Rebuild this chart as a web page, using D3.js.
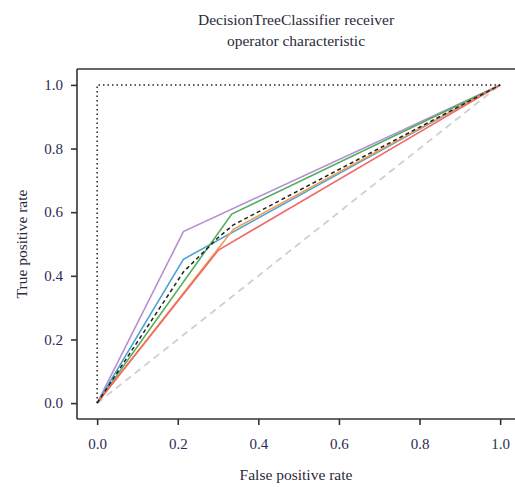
<!DOCTYPE html>
<html><head><meta charset="utf-8">
<script src="https://cdn.jsdelivr.net/npm/d3@7"></script>
<style>body{margin:0;background:#fff}svg{display:block}</style>
</head><body><div id="chart"></div>
<script>
const titleLines = ["DecisionTreeClassifier receiver", "operator characteristic"];
const xLabel = "False positive rate";
const yLabel = "True positive rate";
const tickValues = [0, 0.2, 0.4, 0.6, 0.8, 1.0];
const seriesNames = ["purple", "blue", "green", "orange", "red"];
const seriesColors = ["#b98fd3", "#4aa3d8", "#4fae5c", "#f59a4d", "#f06a66"];
const seriesFpr = [
  [0, 0.214, 1],
  [0, 0.214, 1],
  [0, 0.334, 1],
  [0, 0.338, 1],
  [0, 0.301, 1]
];
const seriesTpr = [
  [0, 0.539, 1],
  [0, 0.452, 1],
  [0, 0.594, 1],
  [0, 0.546, 1],
  [0, 0.481, 1]
];
const meanFpr = [0, 0.214, 0.301, 0.338, 1];
const meanTpr = [0, 0.412, 0.521, 0.560, 1];
const perfectFpr = [0, 0, 1];
const perfectTpr = [0, 1, 1];
const chanceFpr = [0, 1];
const chanceTpr = [0, 1];

const W = 515, H = 487;
const svg = d3.select("#chart").append("svg").attr("width", W).attr("height", H);
const x = d3.scaleLinear().domain([-0.05, 1.05]).range([77, 520.3]);
const y = d3.scaleLinear().domain([-0.05, 1.05]).range([419, 69]);
const font = "'Liberation Serif', 'DejaVu Serif', serif";
const tickColor = "#2b2b55";
const textColor = "#2a2a3a";

const line = d3.line().x(d => x(d[0])).y(d => y(d[1]));
const zip = (a, b) => a.map((v, i) => [v, b[i]]);

// chance
svg.append("path").attr("d", line(zip(chanceFpr, chanceTpr)))
  .attr("fill", "none").attr("stroke", "#cfcfcf").attr("stroke-width", 1.8).attr("stroke-dasharray", "7,5");

seriesNames.forEach((n, i) => {
  svg.append("path").attr("d", line(zip(seriesFpr[i], seriesTpr[i])))
    .attr("fill", "none").attr("stroke", seriesColors[i]).attr("stroke-width", 1.6);
});

svg.append("path").attr("d", line(zip(meanFpr, meanTpr)))
  .attr("fill", "none").attr("stroke", "#222").attr("stroke-width", 1.5).attr("stroke-dasharray", "4,3");

svg.append("path").attr("d", line(zip(perfectFpr, perfectTpr)))
  .attr("fill", "none").attr("stroke", "#222").attr("stroke-width", 1.5).attr("stroke-dasharray", "1.5,3");

// axes
const xAxis = svg.append("g").attr("transform", `translate(0,${y(-0.05)})`)
  .call(d3.axisBottom(x).tickValues(tickValues).tickFormat(d3.format(".1f")).tickSize(6).tickPadding(13));
const yAxis = svg.append("g").attr("transform", `translate(${x(-0.05)},0)`)
  .call(d3.axisLeft(y).tickValues(tickValues).tickFormat(d3.format(".1f")).tickSize(6).tickPadding(8));
[xAxis, yAxis].forEach(g => {
  g.select(".domain").attr("stroke", "#333").attr("stroke-width", 1.6).attr("d",
    g === xAxis ? `M${x(-0.05)},0H${W}` : `M0,${y(1.05)}V${y(-0.05)}`);
  g.selectAll(".tick line").attr("stroke", "#333").attr("stroke-width", 1.6);
  g.selectAll(".tick text").attr("fill", tickColor).style("font-family", font).style("font-size", "15px");
});
// top spine
svg.append("line").attr("x1", x(-0.05)).attr("x2", W).attr("y1", y(1.05)).attr("y2", y(1.05))
  .attr("stroke", "#333").attr("stroke-width", 1.6);

// labels
const cx = (x(-0.05) + W) / 2;
svg.selectAll(".title").data(titleLines).enter().append("text")
  .attr("x", cx).attr("y", (d, i) => 25 + i * 21).attr("text-anchor", "middle")
  .style("font-family", font).style("font-size", "15.5px").attr("fill", textColor).text(d => d);
svg.append("text").attr("x", cx).attr("y", 480).attr("text-anchor", "middle")
  .style("font-family", font).style("font-size", "15.5px").attr("fill", textColor).text(xLabel);
svg.append("text").attr("transform", `translate(27,${(y(1.05) + y(-0.05)) / 2}) rotate(-90)`)
  .attr("text-anchor", "middle")
  .style("font-family", font).style("font-size", "15.5px").attr("fill", textColor).text(yLabel);
</script>
</body></html>
